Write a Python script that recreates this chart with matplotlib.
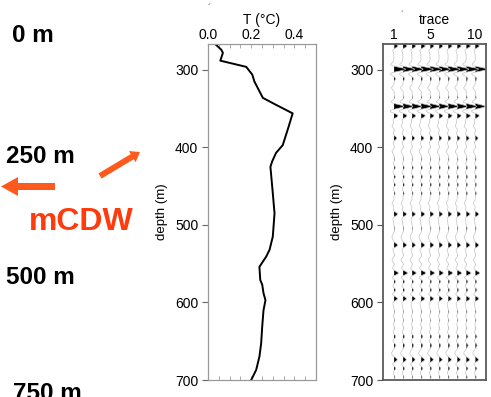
import numpy as np
import matplotlib
matplotlib.use("Agg")
import matplotlib.pyplot as plt
from matplotlib.patches import FancyArrow

plt.rcParams['font.family'] = ['Liberation Sans', 'DejaVu Sans']

# Temperature profile: depth (m) and temperature (deg C)
t_depth = [266, 274, 278, 288, 296, 306, 315, 336, 345, 356, 377, 390, 397, 407,
           418, 425, 459, 485, 515, 532, 541, 554, 571, 577, 588, 597, 610, 631,
           653, 670, 687, 700]
t_temp = [0.031, 0.062, 0.069, 0.057, 0.177, 0.205, 0.215, 0.254, 0.315, 0.392,
          0.369, 0.354, 0.346, 0.315, 0.297, 0.289, 0.300, 0.308, 0.300, 0.285,
          0.269, 0.238, 0.242, 0.251, 0.257, 0.266, 0.257, 0.251, 0.246, 0.238,
          0.223, 0.200]

# Reflection events shared by all traces: depth (m) and signed amplitude
ev_depth = [269, 299, 311, 323, 336, 347, 359, 372, 388, 405, 416, 426,
            438, 448, 459, 472, 486, 504, 515, 526, 545, 562, 573, 584, 595, 612,
            623, 633, 644, 655, 665, 674, 685, 696]
ev_amp = [0.45, 1.3, 0.18, -0.25, 0.12, 1.1, 0.45, -0.2, 0.32, -0.2,
          0.1, 0.16, 0.18, 0.18, 0.14, -0.2, 0.4, 0.1, -0.2, 0.4, -0.2, 0.5, 0.2,
          0.2, 0.4, 0.1, 0.1, 0.08, 0.2, 0.2, -0.2, 0.35, 0.2, 0.12]

# Trace numbers and per-trace gain
trace_no = [1, 2, 3, 4, 5, 6, 7, 8, 9, 10]
trace_gain = [1.0, 1.0, 0.95, 1.05, 1.0, 0.95, 1.0, 1.0, 1.05, 1.0]

# Water-column depth markers
depth_marks = ["0 m", "250 m", "500 m", "750 m"]

W, H = 491, 397
fig = plt.figure(figsize=(W / 100, H / 100), dpi=100)

# Full-figure overlay in pixel units for annotations
ov = fig.add_axes([0, 0, 1, 1], zorder=0)
ov.set_xlim(0, W)
ov.set_ylim(H, 0)
ov.axis('off')

mark_pos = [(12, 42), (6, 163), (6, 284), (13, 400)]
for txt, (x, y) in zip(depth_marks, mark_pos):
    ov.text(x, y, txt, fontsize=17.5, fontweight='bold', color='black',
            ha='left', va='baseline')
ov.text(29, 230, "mCDW", fontsize=23, fontweight='bold', color='#FF3A0C',
        ha='left', va='baseline')

arrow_col = '#FF5A1E'
ov.add_patch(FancyArrow(55, 186.5, -54, 0, width=7, head_width=19,
                        head_length=17, length_includes_head=True,
                        color=arrow_col, lw=0))
ov.add_patch(FancyArrow(100, 176, 40, -24, width=6, head_width=13,
                        head_length=9, length_includes_head=True,
                        color=arrow_col, lw=0))
ov.text(209, 9, "\u00b4", fontsize=7, color='#555555', ha='center', va='center')
ov.text(402, 16, "\u00b4", fontsize=7, color='#555555', ha='center', va='center')

y_top, y_bot = 44, 380
ylims = (700, 266.5)

# Temperature panel
ax1 = fig.add_axes([208 / W, (H - y_bot) / H, 108 / W, (y_bot - y_top) / H], zorder=2)
ax1.plot(t_temp, t_depth, color='black', lw=1.4)
ax1.set_xlim(0, 0.5)
ax1.set_ylim(*ylims)
ax1.xaxis.tick_top()
ax1.xaxis.set_label_position('top')
ax1.set_xticks([0.0, 0.2, 0.4])
ax1.set_xticklabels(['0.0', '0.2', '0.4'])
ax1.set_xticks(np.arange(0.05, 0.5, 0.05), minor=True)
ax1.tick_params(axis='x', which='both', direction='in', top=True, bottom=True,
                labeltop=True, labelbottom=False, length=3, width=0.6,
                color='#999999', labelsize=10, pad=1.5)
ax1.set_yticks([300, 400, 500, 600, 700])
ax1.tick_params(axis='y', which='major', direction='out', length=4, width=0.8,
                color='#666666', labelsize=10, pad=3)
ax1.set_xlabel("T (\u00b0C)", fontsize=10, labelpad=2.5)
ax1.set_ylabel("depth (m)", fontsize=9.5, labelpad=5)
for s in ax1.spines.values():
    s.set_color('#9a9a9a')
    s.set_linewidth(0.9)

# Trace panel: wiggle display with variable-area fill
ax2 = fig.add_axes([383 / W, (H - y_bot) / H, 103 / W, (y_bot - y_top) / H], zorder=2)
z = np.arange(262, 704, 0.2)
lam, sig = 16.0, 6.0
sig_tr = np.zeros_like(z)
for d, a in zip(ev_depth, ev_amp):
    dz = z - d
    sig_tr += a * np.exp(-(dz / sig) ** 2) * np.cos(2 * np.pi * dz / lam)
thr = 0.03
for n, g in zip(trace_no, trace_gain):
    xs = n + g * sig_tr
    ax2.plot(xs, z, color='#c4c4c4', lw=0.5)
    ax2.fill_betweenx(z, n + thr, xs, where=(g * sig_tr > thr), color='black',
                      lw=0, interpolate=True)
ax2.set_xlim(-0.2, 11.2)
ax2.set_ylim(*ylims)
ax2.xaxis.tick_top()
ax2.xaxis.set_label_position('top')
ax2.set_xticks([1, 5, 10])
ax2.tick_params(axis='x', direction='in', length=3, width=0.8, color='#555555',
                labelsize=10, pad=1.5)
ax2.set_yticks([300, 400, 500, 600, 700])
ax2.tick_params(axis='y', direction='out', length=4, width=0.8, color='#555555',
                labelsize=10, pad=3)
ax2.set_xlabel("trace", fontsize=10, labelpad=2.5)
ax2.set_ylabel("depth (m)", fontsize=9.5, labelpad=5)
for s in ax2.spines.values():
    s.set_color('#5a5a5a')
    s.set_linewidth(1.3)

fig.savefig("out.png", dpi=100)
